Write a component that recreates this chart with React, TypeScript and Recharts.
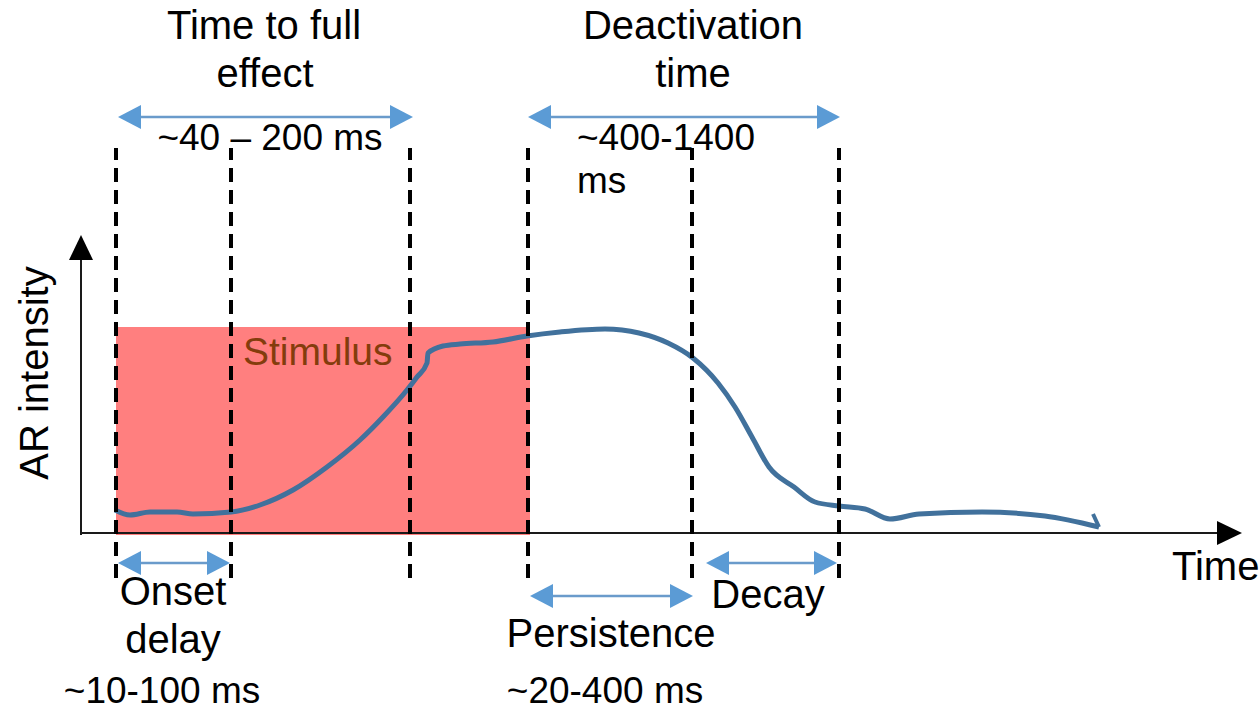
import React from 'react';
import {
  ComposedChart,
  Line,
  Scatter,
  XAxis,
  YAxis,
  ReferenceLine,
  ReferenceArea,
} from 'recharts';

// time (a.u.) and AR intensity (a.u.)
const responseTime = [
  3.4, 4.9, 6.9, 9.6, 11.2, 15.0, 17.9, 21.2, 24.6, 27.9, 30.2, 32.6, 33.6, 34.6, 34.7,
  36.2, 37.9, 41.2, 44.6, 47.9, 52.4, 55.8, 58.7, 61.2, 63.7, 65.4, 67.1, 68.8, 71.3,
  73.4, 75.8, 78.4, 80.9, 83.8, 90.1, 96.4, 101.8,
];
const responseIntensity = [
  11.5, 9, 10.5, 10.5, 9.5, 10.5, 14, 21.5, 33, 46.5, 58, 71.5, 78, 85, 90,
  93.5, 94.5, 95.5, 98.5, 100.5, 102, 100, 95, 87.5, 75, 63, 48, 33, 23,
  15.5, 13.5, 12, 7, 9.5, 10.5, 8.5, 3,
];
// little hook at the end of the curve
const tipTime = [101.8, 101.2];
const tipIntensity = [3, 9.5];

// stimulus block
const stimulusStart = 3.5;
const stimulusEnd = 44.9;
const stimulusLevel = 103;

// dashed phase boundaries
const phaseBoundaries = [3.5, 15.0, 32.9, 44.7, 61.1, 75.8];
const boundaryTop = 192.5;
const boundaryBottom = -22.5;

// double arrows: [from, to, level]
const spanNames = ['full effect', 'deactivation', 'onset', 'persistence', 'decay'];
const spanFrom = [3.7, 44.7, 3.7, 44.9, 62.5];
const spanTo = [33.2, 75.9, 14.9, 61.2, 75.6];
const spanLevel = [208, 208, -15, -31.5, -15];

// axis extents
const xAxisEnd = 116.1;
const yAxisEnd = 149;

const FONT = '"Liberation Sans", Arial, sans-serif';
const BLUE = '#5b9bd5';

const curveData = responseTime.map((t, i) => ({ t, v: responseIntensity[i] }));
const tipData = tipTime.map((t, i) => ({ t, v: tipIntensity[i] }));

const spanData = spanNames.map((name, i) => ({
  name,
  from: spanFrom[i],
  to: spanTo[i],
  level: spanLevel[i],
}));

const blueHeads = spanData.flatMap((s) => [
  { t: s.from, v: s.level, dir: 'left' },
  { t: s.to, v: s.level, dir: 'right' },
]);

const axisHeads = [
  { t: xAxisEnd, v: 0, dir: 'right' },
  { t: 0, v: yAxisEnd, dir: 'up' },
];

// annotation layout
const labels = [
  { t: 18.3, v: 247, text: 'Time to full', anchor: 'middle', size: 40 },
  { t: 18.4, v: 223, text: 'effect', anchor: 'middle', size: 40 },
  { t: 61.2, v: 247, text: 'Deactivation', anchor: 'middle', size: 40 },
  { t: 61.2, v: 223, text: 'time', anchor: 'middle', size: 40 },
  { t: 18.9, v: 191.5, text: '~40 – 200 ms', anchor: 'middle', size: 37 },
  { t: 49.6, v: 191.5, text: '~400-1400', anchor: 'start', size: 37 },
  { t: 49.6, v: 170, text: 'ms', anchor: 'start', size: 37 },
  { t: 16.2, v: 84, text: 'Stimulus', anchor: 'start', size: 39, color: '#843c0c' },
  { t: -3.3, v: 80, text: 'AR intensity', anchor: 'middle', size: 40, rotate: true },
  { t: 109.1, v: -23.5, text: 'Time', anchor: 'start', size: 40 },
  { t: 9.2, v: -36, text: 'Onset', anchor: 'middle', size: 40 },
  { t: 9.2, v: -60, text: 'delay', anchor: 'middle', size: 40 },
  { t: 8.1, v: -85, text: '~10-100 ms', anchor: 'middle', size: 37 },
  { t: 53.0, v: -57, text: 'Persistence', anchor: 'middle', size: 40 },
  { t: 52.4, v: -85, text: '~20-400 ms', anchor: 'middle', size: 37 },
  { t: 68.7, v: -37.5, text: 'Decay', anchor: 'middle', size: 40 },
];

const triangle = (cx: number, cy: number, dir: string, len: number, half: number) => {
  if (dir === 'left') return `M${cx},${cy} L${cx + len},${cy - half} L${cx + len},${cy + half} Z`;
  if (dir === 'right') return `M${cx},${cy} L${cx - len},${cy - half} L${cx - len},${cy + half} Z`;
  return `M${cx},${cy} L${cx - half},${cy + len} L${cx + half},${cy + len} Z`;
};

const BlueHead = (props: any) => {
  const { cx, cy, payload } = props;
  return <path d={triangle(cx, cy, payload.dir, 23, 12)} fill={BLUE} />;
};

const AxisHead = (props: any) => {
  const { cx, cy, payload } = props;
  return <path d={triangle(cx, cy, payload.dir, 25, 12)} fill="#000" />;
};

const TextMark = (props: any) => {
  const { cx, cy, payload } = props;
  return (
    <text
      x={cx}
      y={cy}
      textAnchor={payload.anchor}
      fontSize={payload.size}
      fontFamily={FONT}
      fill={payload.color || '#000'}
      transform={payload.rotate ? `rotate(-90 ${cx} ${cy})` : undefined}
    >
      {payload.text}
    </text>
  );
};

export default function App() {
  return (
    <div style={{ position: 'absolute', left: 0, top: 0, width: 1260, height: 710, background: '#fff' }}>
      <ComposedChart width={1260} height={710} margin={{ top: 0, right: 0, bottom: 0, left: 0 }}>
        <XAxis type="number" dataKey="t" domain={[-8.1, 117.9]} hide allowDataOverflow />
        <YAxis type="number" dataKey="v" domain={[-88.5, 266.5]} hide allowDataOverflow />

        <ReferenceArea
          x1={stimulusStart}
          x2={stimulusEnd}
          y1={-1}
          y2={stimulusLevel}
          fill="#ff7f7f"
          fillOpacity={1}
          stroke="none"
        />

        {/* axes */}
        <ReferenceLine segment={[{ x: -0.1, y: 0 }, { x: 114, y: 0 }]} stroke="#1a1a1a" strokeWidth={2} />
        <ReferenceLine segment={[{ x: 0, y: -1 }, { x: 0, y: 139 }]} stroke="#1a1a1a" strokeWidth={2} />

        <Line
          data={curveData}
          dataKey="v"
          type="monotone"
          stroke="#41719c"
          strokeWidth={5}
          dot={false}
          isAnimationActive={false}
        />
        <Line
          data={tipData}
          dataKey="v"
          type="linear"
          stroke="#41719c"
          strokeWidth={4}
          dot={false}
          isAnimationActive={false}
        />

        {phaseBoundaries.map((t) => (
          <ReferenceLine
            key={`b-${t}`}
            segment={[{ x: t, y: boundaryBottom }, { x: t, y: boundaryTop }]}
            stroke="#000"
            strokeWidth={4}
            strokeDasharray="14 8"
          />
        ))}

        {spanData.map((s) => (
          <ReferenceLine
            key={s.name}
            segment={[{ x: s.from + 1, y: s.level }, { x: s.to - 1, y: s.level }]}
            stroke="#6a9bcb"
            strokeWidth={2.5}
          />
        ))}

        <Scatter data={blueHeads} shape={<BlueHead />} isAnimationActive={false} />
        <Scatter data={axisHeads} shape={<AxisHead />} isAnimationActive={false} />
        <Scatter data={labels} shape={<TextMark />} isAnimationActive={false} />
      </ComposedChart>
    </div>
  );
}
